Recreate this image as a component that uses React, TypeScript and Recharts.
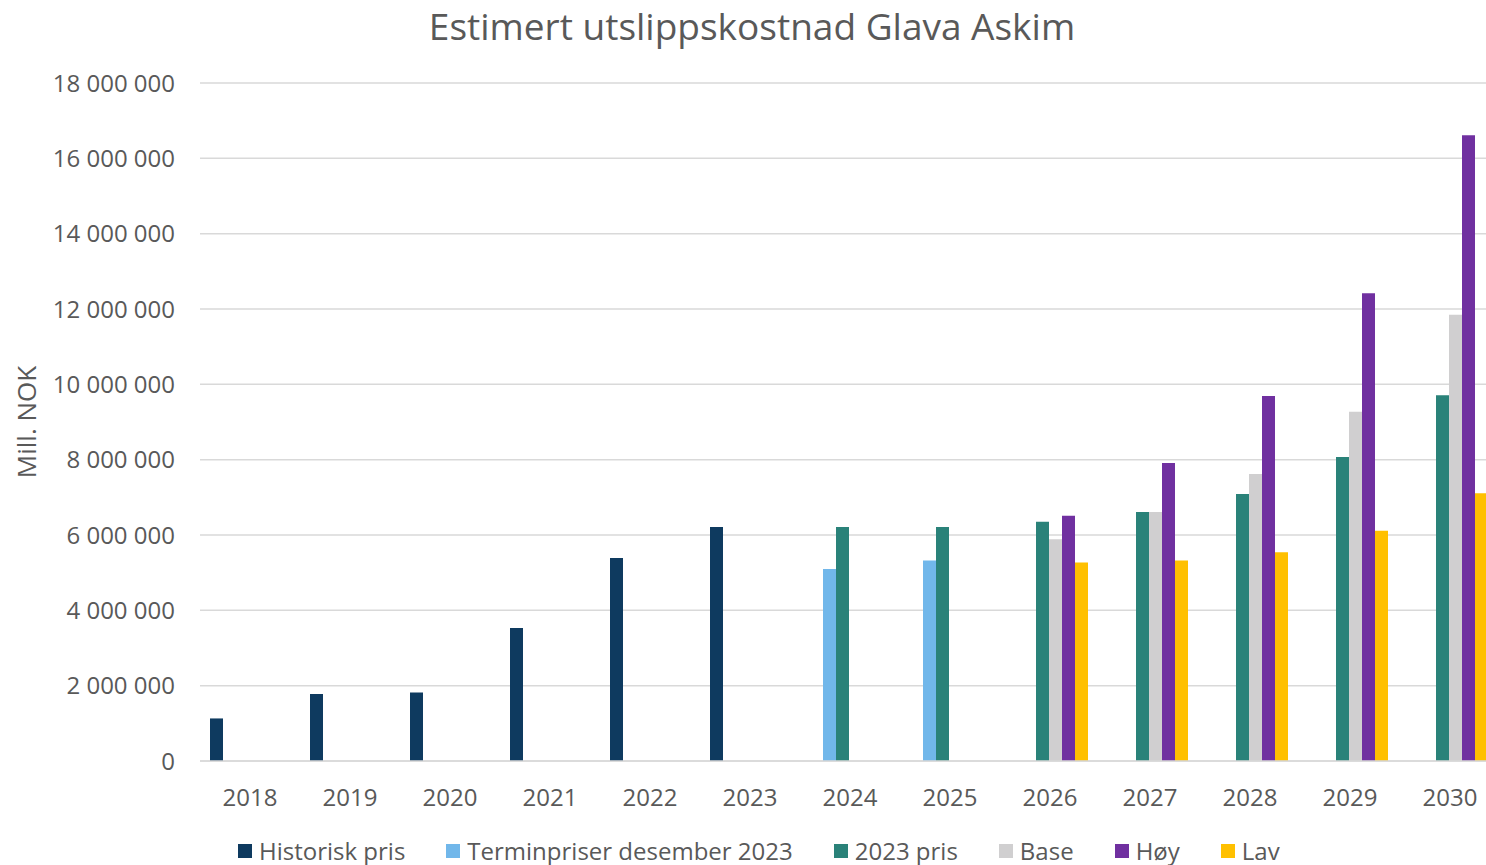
import React from 'react';
import { BarChart, Bar, XAxis, YAxis, CartesianGrid, Legend } from 'recharts';

const years = ['2018', '2019', '2020', '2021', '2022', '2023', '2024', '2025', '2026', '2027', '2028', '2029', '2030'];

const historiskPris = [1130000, 1780000, 1820000, 3530000, 5390000, 6210000, null, null, null, null, null, null, null];
const terminpriser = [null, null, null, null, null, null, 5100000, 5320000, null, null, null, null, null];
const pris2023 = [null, null, null, null, null, null, 6210000, 6210000, 6350000, 6610000, 7090000, 8070000, 9710000];
const base = [null, null, null, null, null, null, null, null, 5890000, 6610000, 7620000, 9270000, 11850000];
const hoy = [null, null, null, null, null, null, null, null, 6510000, 7910000, 9690000, 12420000, 16610000];
const lav = [null, null, null, null, null, null, null, null, 5270000, 5320000, 5540000, 6110000, 7110000];

const yTicks = [0, 2000000, 4000000, 6000000, 8000000, 10000000, 12000000, 14000000, 16000000, 18000000];

const seriesNames = ['Historisk pris', 'Terminpriser desember 2023', '2023 pris', 'Base', 'Høy', 'Lav'];
const seriesKeys = ['historisk', 'termin', 'pris2023', 'base', 'hoy', 'lav'];
const seriesColors = ['#0E3A5F', '#71B7EA', '#2A8279', '#D0CFD0', '#7030A0', '#FFC000'];

const data = years.map((y, i) => ({
  year: y,
  historisk: historiskPris[i],
  termin: terminpriser[i],
  pris2023: pris2023[i],
  base: base[i],
  hoy: hoy[i],
  lav: lav[i],
}));

const FONT = '"Open Sans", sans-serif';
const TEXT = '#595959';

const fmt = (v: number) => String(v).replace(/\B(?=(\d{3})+(?!\d))/g, ' ');

const LegendContent = () => (
  <div style={{ display: 'flex', alignItems: 'center', fontFamily: FONT, fontSize: 24, lineHeight: '24px', color: TEXT, whiteSpace: 'nowrap' }}>
    {seriesNames.map((n, i) => (
      <div key={n} style={{ display: 'flex', alignItems: 'center', marginRight: 41 }}>
        <span style={{ display: 'inline-block', width: 14, height: 14, background: seriesColors[i], marginRight: 7 }} />
        <span>{n}</span>
      </div>
    ))}
  </div>
);

export default function App() {
  return (
    <div style={{ position: 'fixed', left: 0, top: 0, width: 1486, height: 865, overflow: 'hidden', background: '#fff' }}>
      <div
        style={{
          position: 'absolute',
          left: 0,
          top: 0,
          width: 1504,
          textAlign: 'center',
          fontFamily: FONT,
          fontSize: 37,
          color: TEXT,
          whiteSpace: 'nowrap',
        }}
      >
        Estimert utslippskostnad Glava Askim
      </div>
      <div
        style={{
          position: 'absolute',
          left: 26,
          top: 422,
          transform: 'translate(-50%, -50%) rotate(-90deg)',
          fontFamily: FONT,
          fontSize: 26,
          color: TEXT,
          whiteSpace: 'nowrap',
        }}
      >
        Mill. NOK
      </div>
      <div style={{ position: 'absolute', left: 0, top: 0 }}>
        <BarChart
          width={1500}
          height={865}
          data={data}
          margin={{ top: 83, right: 0, left: 0, bottom: 64 }}
          barCategoryGap="10%"
          barGap={0}
        >
          <CartesianGrid vertical={false} stroke="#D9D9D9" strokeWidth={1.5} />
          <XAxis
            dataKey="year"
            height={40}
            tickLine={false}
            tickSize={0}
            tickMargin={28}
            axisLine={{ stroke: '#D9D9D9', strokeWidth: 1.5 }}
            tick={{ fill: TEXT, fontSize: 24, fontFamily: FONT }}
            interval={0}
          />
          <YAxis
            width={200}
            domain={[0, 18000000]}
            ticks={yTicks}
            tickFormatter={fmt}
            axisLine={false}
            tickLine={false}
            tickSize={0}
            tickMargin={25}
            tick={{ fill: TEXT, fontSize: 24, fontFamily: FONT }}
            interval={0}
          />
          <Legend
            layout="horizontal"
            verticalAlign="middle"
            align="center"
            content={<LegendContent />}
            wrapperStyle={{ top: 839, left: 238, width: 1300 }}
          />
          {seriesKeys.map((k, i) => (
            <Bar key={k} dataKey={k} name={seriesNames[i]} fill={seriesColors[i]} isAnimationActive={false} />
          ))}
        </BarChart>
      </div>
    </div>
  );
}
